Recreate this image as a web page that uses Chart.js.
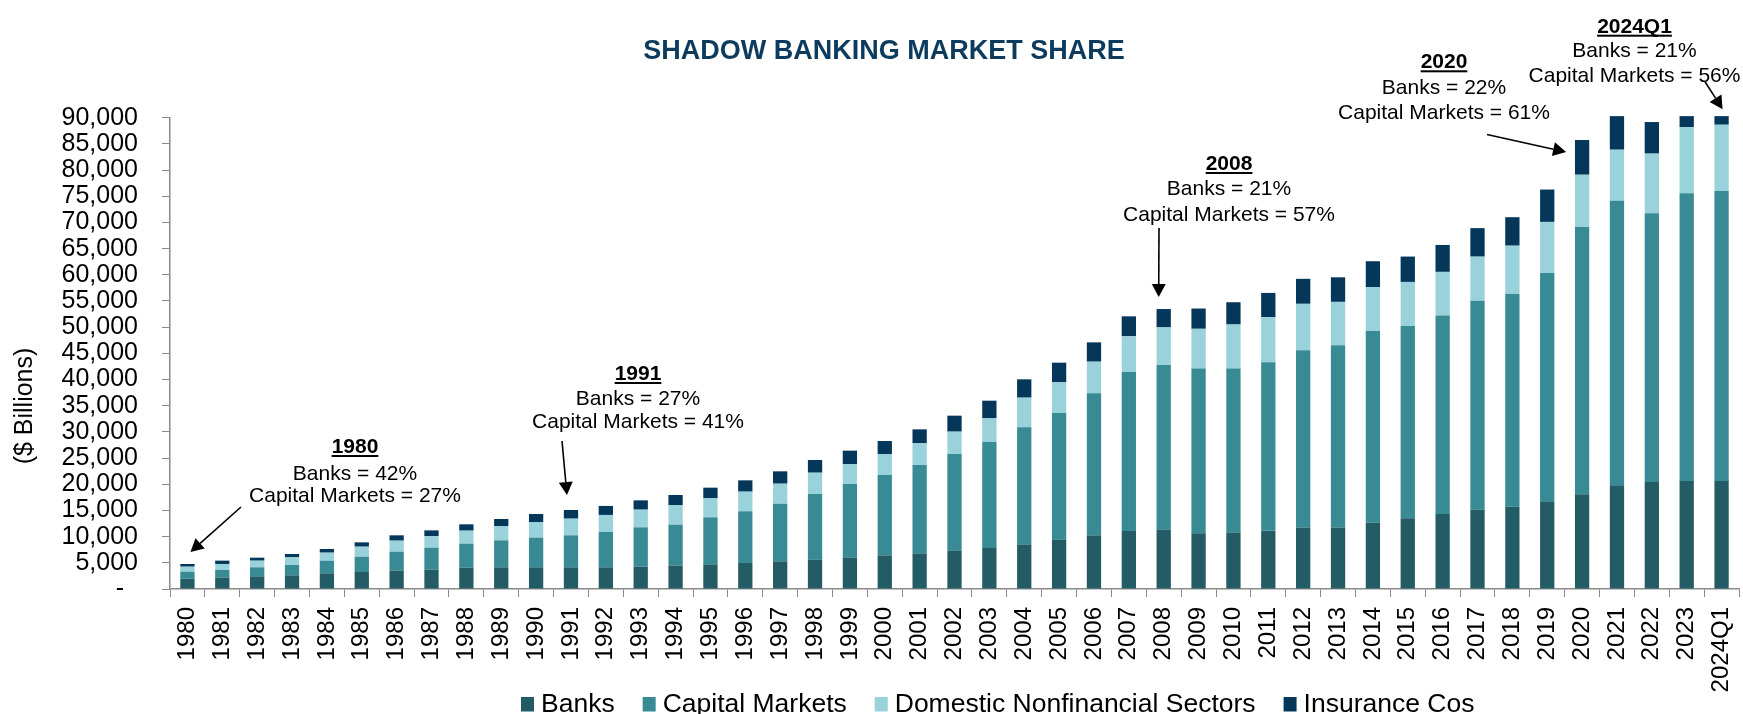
<!DOCTYPE html>
<html><head><meta charset="utf-8">
<script src="https://cdn.jsdelivr.net/npm/chart.js@4.4.1/dist/chart.umd.min.js"></script>
<style>html,body{margin:0;padding:0;background:#fff;}canvas{display:block;}</style>
</head><body>
<canvas id="c" width="1743" height="714"></canvas>
<script>
// ---------- data ($ billions) ----------
const categories = ['1980','1981','1982','1983','1984','1985','1986','1987','1988','1989',
  '1990','1991','1992','1993','1994','1995','1996','1997','1998','1999',
  '2000','2001','2002','2003','2004','2005','2006','2007','2008','2009',
  '2010','2011','2012','2013','2014','2015','2016','2017','2018','2019',
  '2020','2021','2022','2023','2024Q1'];
const banks = [1970,2160,2420,2610,2990,3250,3500,3690,4070,4140,
  4140,4140,4140,4270,4460,4710,4970,5280,5600,5980,
  6430,6810,7320,7830,8470,9420,10250,11080,11330,10650,
  10800,11100,11770,11770,12670,13490,14300,15120,15720,16610,
  18100,19820,20410,20640,20640];
const capitalMarkets = [1340,1470,1720,1970,2420,2920,3630,4200,4590,5150,
  5660,6110,6750,7510,7830,8980,9870,11010,12540,14070,
  15340,16870,18460,20240,22400,24190,27110,30360,31440,31440,
  31290,32180,33820,34790,36580,36730,37920,39930,40680,43730,
  51030,54310,51330,54910,55350];
const domesticNonfinancial = [950,1150,1270,1460,1530,1910,2100,2230,2480,2740,
  2990,3180,3250,3370,3750,3630,3750,3820,4070,3820,
  4010,4140,4270,4580,5670,5860,6050,6810,7190,7600,
  8420,8640,8870,8270,8420,8420,8340,8420,9160,9760,
  9980,9760,11400,12660,12670];
const insuranceCos = [510,640,570,640,700,830,1020,1080,1210,1340,
  1530,1660,1720,1780,1910,2030,2160,2360,2420,2550,
  2480,2670,3050,3310,3500,3750,3690,3820,3500,3870,
  4250,4620,4770,4690,4920,4840,5140,5440,5440,6180,
  6630,6410,6030,2090,1640];
const seriesNames = ['Banks','Capital Markets','Domestic Nonfinancial Sectors','Insurance Cos'];
const yMin = 0, yMax = 90000, yStep = 5000;
const chartTitle = 'SHADOW BANKING MARKET SHARE';
const yAxisTitle = '($ Billions)';
const annotationTexts = [
  {cat:'1980',   head:'1980',   lines:['Banks = 42%','Capital Markets = 27%']},
  {cat:'1991',   head:'1991',   lines:['Banks = 27%','Capital Markets = 41%']},
  {cat:'2008',   head:'2008',   lines:['Banks = 21%','Capital Markets = 57%']},
  {cat:'2020',   head:'2020',   lines:['Banks = 22%','Capital Markets = 61%']},
  {cat:'2024Q1', head:'2024Q1', lines:['Banks = 21%','Capital Markets = 56%']}
];

// ---------- styling / layout ----------
const FONT = "'Liberation Sans', Arial, Helvetica, sans-serif";
const COLORS = ['#245c66', '#388b94', '#99d2db', '#05375a'];
const AXIS_COLOR = '#8a8a8a';
const annoLayout = {
  '1980':   {cx:355,    base:453,  pitch:[26.5,22], from:[241,507],    tip:[3,-12]},
  '1991':   {cx:638,    base:380,  pitch:[25,23],   from:[562,441],    tip:[-4,-15]},
  '2008':   {cx:1229,   base:170,  pitch:[25,25.5], from:[1159,228],   tip:[-5,-12]},
  '2020':   {cx:1444,   base:68.3, pitch:[25.7,25], from:[1487,134.5], tip:[-16,12]},
  '2024Q1': {cx:1634.5, base:32.7, pitch:[24,25],   from:[1705,81.7],  tip:[1,-7]}
};

function fmt(v){ return v === 0 ? '-  ' : String(v).replace(/\B(?=(\d{3})+(?!\d))/g, ','); }

function drawArrow(ctx, x1, y1, x2, y2){
  const ang = Math.atan2(y2 - y1, x2 - x1);
  const hl = 13, hw = 7;
  const bx = x2 - hl*Math.cos(ang), by = y2 - hl*Math.sin(ang);
  ctx.strokeStyle = '#000'; ctx.fillStyle = '#000'; ctx.lineWidth = 1.6;
  ctx.beginPath(); ctx.moveTo(x1, y1); ctx.lineTo(bx, by); ctx.stroke();
  ctx.beginPath();
  ctx.moveTo(x2, y2);
  ctx.lineTo(bx + hw*Math.sin(ang), by - hw*Math.cos(ang));
  ctx.lineTo(bx - hw*Math.sin(ang), by + hw*Math.cos(ang));
  ctx.closePath(); ctx.fill();
}

const decorPlugin = {
  id: 'decor',
  afterDraw(chart){
    const ctx = chart.ctx;
    const xs = chart.scales.x, ys = chart.scales.y;
    ctx.save();
    // title
    ctx.fillStyle = '#0d3b5e';
    ctx.font = 'bold 27px ' + FONT;
    ctx.textAlign = 'center'; ctx.textBaseline = 'alphabetic';
    ctx.fillText(chartTitle, 884, 58.5);
    // y axis title
    ctx.save();
    ctx.translate(25, 406); ctx.rotate(-Math.PI/2);
    ctx.fillStyle = '#000'; ctx.font = '25px ' + FONT;
    ctx.textAlign = 'center'; ctx.textBaseline = 'middle';
    ctx.fillText(yAxisTitle, 0, 0);
    ctx.restore();
    // annotations
    annotationTexts.forEach(a => {
      const L = annoLayout[a.cat];
      ctx.fillStyle = '#000'; ctx.textAlign = 'center'; ctx.textBaseline = 'alphabetic';
      ctx.font = 'bold 21px ' + FONT;
      ctx.fillText(a.head, L.cx, L.base);
      const w = ctx.measureText(a.head).width;
      ctx.fillRect(L.cx - w/2, L.base + 2, w, 2);
      ctx.font = '21px ' + FONT;
      let y = L.base;
      a.lines.forEach((t, i) => { y += L.pitch[i]; ctx.fillText(t, L.cx, y); });
      const idx = categories.indexOf(a.cat);
      const total = banks[idx] + capitalMarkets[idx] + domesticNonfinancial[idx] + insuranceCos[idx];
      const tx = xs.getPixelForValue(idx) + L.tip[0];
      const ty = ys.getPixelForValue(total) + L.tip[1];
      drawArrow(ctx, L.from[0], L.from[1], tx, ty);
    });
    // legend
    ctx.font = '26.5px ' + FONT;
    ctx.textAlign = 'left'; ctx.textBaseline = 'alphabetic';
    let x = 521;
    chart.data.datasets.forEach(ds => {
      ctx.fillStyle = ds.backgroundColor;
      ctx.fillRect(x, 697, 13, 14.5);
      ctx.fillStyle = '#000';
      ctx.fillText(ds.label, x + 20, 712);
      x += 20 + ctx.measureText(ds.label).width + 28;
    });
    ctx.restore();
  }
};

const seriesValues = [banks, capitalMarkets, domesticNonfinancial, insuranceCos];
new Chart(document.getElementById('c'), {
  type: 'bar',
  data: {
    labels: categories,
    datasets: seriesValues.map((vals, i) => ({
      label: seriesNames[i], data: vals, backgroundColor: COLORS[i],
      borderWidth: 0, barPercentage: 0.41, categoryPercentage: 1.0, clip: false
    }))
  },
  options: {
    responsive: false, animation: false,
    layout: {padding: {left: 0, right: 4, top: 117.7, bottom: 0}},
    plugins: {legend: {display: false}, title: {display: false}, tooltip: {enabled: false}},
    scales: {
      x: {
        stacked: true, offset: true,
        grid: {display: true, drawOnChartArea: false, drawTicks: true, tickLength: 8, color: AXIS_COLOR, offset: true},
        border: {display: true, color: AXIS_COLOR, width: 1.5},
        ticks: {minRotation: 90, maxRotation: 90, autoSkip: false, padding: 10, color: '#000',
                font: {size: 24, family: FONT}},
        afterFit: s => { s.height = 125; s.paddingLeft = 0; s.paddingRight = 0; }
      },
      y: {
        stacked: true, min: yMin, max: yMax,
        grid: {display: true, drawOnChartArea: false, drawTicks: true, tickLength: 8, color: AXIS_COLOR},
        border: {display: true, color: AXIS_COLOR, width: 1.5},
        ticks: {stepSize: yStep, autoSkip: false, padding: 24, color: '#000', font: {size: 25, family: FONT}, callback: v => fmt(v)},
        afterFit: s => { s.width = 170; s.paddingTop = 0; s.paddingBottom = 0; }
      }
    }
  },
  plugins: [decorPlugin]
});
</script>
</body></html>
